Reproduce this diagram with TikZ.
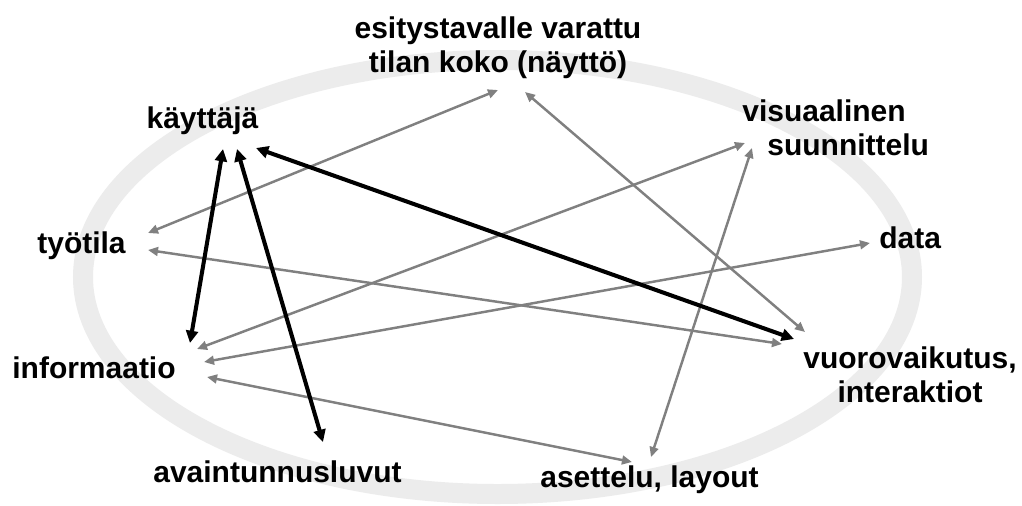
\documentclass[tikz,border=0pt]{standalone}
\usepackage{fontspec}
\setmainfont{Liberation Sans}
\usetikzlibrary{arrows.meta}
\definecolor{ringgray}{RGB}{236,236,236}
\definecolor{linkgray}{RGB}{128,128,128}
\begin{document}
\begin{tikzpicture}[x=0.02cm,y=-0.02cm,
  term/.style={font=\fontsize{17.07}{18.8}\selectfont\bfseries, inner sep=0pt, text=black},
  strong/.style={line width=2.3pt, draw=black,
    {Triangle[length=7pt,width=6.8pt]}-{Triangle[length=7pt,width=6.8pt]}},
  weak/.style={line width=1.4pt, draw=linkgray,
    {Triangle[length=5.7pt,width=5pt]}-{Triangle[length=5.7pt,width=5pt]}}]
\useasboundingbox[fill=white] (0,0) rectangle (1022,505);

% background ring
\draw[ringgray, line width=0.4cm] (497.5,277) ellipse [x radius=414.5, y radius=217];

% concepts (multi-line nodes are placed by the baseline of their last line)
\node[term, anchor=base, align=center] (scr) at (498,72) {esitystavalle varattu\\tilan koko (näyttö)};
\node[term, anchor=base] (kay) at (202.5,128) {käyttäjä};
\node[term, anchor=base west, align=left] (vis) at (742,155) {visuaalinen\\\hspace*{0.5cm}suunnittelu};
\node[term, anchor=base west] (tyo) at (37,253) {työtila};
\node[term, anchor=base west] (dat) at (879,248) {data};
\node[term, anchor=base west] (inf) at (12,378) {informaatio};
\node[term, anchor=base, align=center] (vuo) at (910,402) {vuorovaikutus,\\interaktiot};
\node[term, anchor=base west] (ava) at (153,482) {avaintunnusluvut};
\node[term, anchor=base west] (ase) at (540,487) {asettelu, layout};

% connector ends
\coordinate (kay-inf) at ([shift={(20.5,21)}]kay.base);
\coordinate (kay-ava) at ([shift={(34.5,21)}]kay.base);
\coordinate (kay-vuo) at ([shift={(53.5,20)}]kay.base);
\coordinate (inf-kay) at ([shift={(178,-35)}]inf.base west);
\coordinate (inf-vis) at ([shift={(185,-29)}]inf.base west);
\coordinate (inf-dat) at ([shift={(192,-16)}]inf.base west);
\coordinate (inf-ase) at ([shift={(195,-1)}]inf.base west);
\coordinate (ava-kay) at ([shift={(170,-40)}]ava.base west);
\coordinate (vuo-kay) at ([shift={(-116,-63)}]vuo.base);
\coordinate (vuo-tyo) at ([shift={(-128,-58)}]vuo.base);
\coordinate (vuo-scr) at ([shift={(-105,-70)}]vuo.base);
\coordinate (tyo-scr) at ([shift={(111,-20)}]tyo.base west);
\coordinate (tyo-vuo) at ([shift={(111,-3)}]tyo.base west);
\coordinate (scr-tyo) at ([shift={(0,18)}]scr.base);
\coordinate (scr-vuo) at ([shift={(27,20)}]scr.base);
\coordinate (vis-inf) at ([shift={(3,-12)}]vis.base west);
\coordinate (vis-ase) at ([shift={(10,-7)}]vis.base west);
\coordinate (dat-inf) at ([shift={(-9,-5)}]dat.base west);
\coordinate (ase-inf) at ([shift={(92,-25)}]ase.base west);
\coordinate (ase-vis) at ([shift={(111,-30)}]ase.base west);

% weaker links
\draw[weak] (tyo-scr) -- (scr-tyo);
\draw[weak] (tyo-vuo) -- (vuo-tyo);
\draw[weak] (scr-vuo) -- (vuo-scr);
\draw[weak] (inf-vis) -- (vis-inf);
\draw[weak] (inf-dat) -- (dat-inf);
\draw[weak] (inf-ase) -- (ase-inf);
\draw[weak] (vis-ase) -- (ase-vis);

% links of the user
\draw[strong] (kay-inf) -- (inf-kay);
\draw[strong] (kay-ava) -- (ava-kay);
\draw[strong] (kay-vuo) -- (vuo-kay);
\end{tikzpicture}
\end{document}
